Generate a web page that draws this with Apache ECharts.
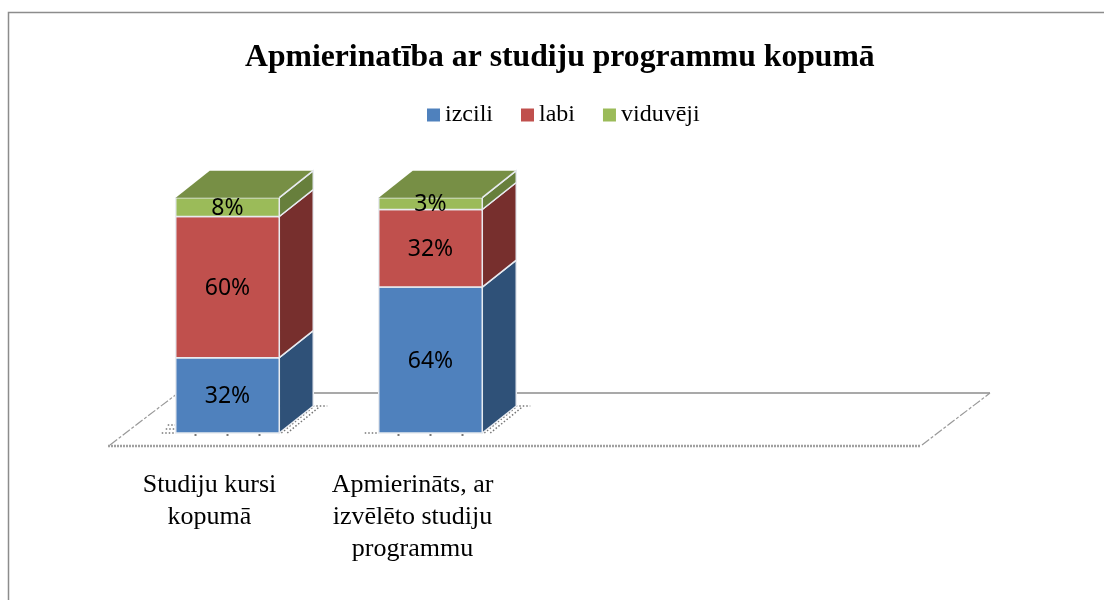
<!DOCTYPE html>
<html>
<head>
<meta charset="utf-8">
<style>
html,body{margin:0;padding:0;background:#fff;}
#chart{width:1104px;height:600px;}
</style>
<script src="https://cdn.jsdelivr.net/npm/echarts@6/dist/echarts.min.js"></script>
</head>
<body>
<div id="chart"></div>
<script>
var categories = ['Studiju kursi\nkopumā', 'Apmierināts, ar\nizvēlēto studiju\nprogrammu', '', ''];
// bar heights as drawn, the printed labels do not always add up to 100
var izcili = [32, 62];
var labi = [60, 33];
var viduveji = [8, 5];
var izciliLabels = ['32%', '64%'];
var labiLabels = ['60%', '32%'];
var viduvejiLabels = ['8%', '3%'];

var DEPTH_X = 34, DEPTH_Y = 27;
var SERIF = '"Liberation Serif", serif';

function stackData(values, labels, below){
	return values.map(function(v, i){
		var start = below ? below[i] : 0;
		return [i, start, start + v, labels[i]];
	});
}
function sum(a, b){
	return a.map(function(v, i){ return v + b[i]; });
}
function barItem(front, side, top){
	return function(params, api){
		var band = api.size([1, 0])[0];
		var w = band * 0.51;
		var cx = api.coord([api.value(0), 0])[0] + 18;
		var x0 = cx - w / 2, x1 = cx + w / 2;
		var y0 = api.coord([0, api.value(1)])[1];
		var y1 = api.coord([0, api.value(2)])[1];
		var edge = {stroke:'#e8ebf0', lineWidth:1.5};
		var children = [{
			type:'polygon',
			shape:{points:[[x1,y0],[x1 + DEPTH_X,y0 - DEPTH_Y],[x1 + DEPTH_X,y1 - DEPTH_Y],[x1,y1]]},
			style:Object.assign({fill:side}, edge)
		},{
			type:'rect',
			shape:{x:x0, y:y1, width:w, height:y0 - y1},
			style:Object.assign({fill:front}, edge)
		}];
		if(top){
			children.push({
				type:'polygon',
				shape:{points:[[x0,y1],[x0 + DEPTH_X,y1 - DEPTH_Y],[x1 + DEPTH_X,y1 - DEPTH_Y],[x1,y1]]},
				style:{fill:top}
			});
			children.push({
				type:'line',
				shape:{x1:x1,y1:y1,x2:x1 + DEPTH_X,y2:y1 - DEPTH_Y},
				style:edge
			});
		}
		children.push({
			type:'text',
			style:{
				text:api.value(3), x:cx, y:(y0 + y1) / 2 + 1,
				align:'center', verticalAlign:'middle',
				font:'23px "Noto Sans", sans-serif', fill:'#000'
			}
		});
		return {type:'group', children:children};
	};
}
function floorItem(params, api){
	var band = api.size([1, 0])[0];
	var base = api.coord([0, 0]);
	var left = base[0] - band / 2;
	var right = left + band * categories.length;
	var y = base[1];
	var children = [
		{type:'line', shape:{x1:left + 70,y1:y - 40,x2:right + 70,y2:y - 40}, style:{stroke:'#8c8c8c', lineWidth:1.5}},
		{type:'line', shape:{x1:left,y1:y + 13,x2:right,y2:y + 13}, style:{stroke:'#a0a0a0', lineWidth:2.5, lineDash:[2,1]}},
		{type:'line', shape:{x1:left + 2,y1:y + 12,x2:left + 70,y2:y - 40}, style:{stroke:'#999', lineWidth:1.2, lineDash:[9,2,3,2]}},
		{type:'line', shape:{x1:right + 2,y1:y + 12,x2:right + 70,y2:y - 40}, style:{stroke:'#999', lineWidth:1.2, lineDash:[9,2,3,2]}}
	];
	// dotted shadows on the floor round each bar
	[0, 1].forEach(function(i){
		var cx = api.coord([i, 0])[0] + 18;
		var x0 = cx - band * 0.255, x1 = cx + band * 0.255;
		var dots = {stroke:'#777', lineWidth:1.5, lineDash:[1.5,2]};
		children.push({type:'line', shape:{x1:x1 + 2,y1:y,x2:x1 + 34,y2:y - 26}, style:dots});
		children.push({type:'line', shape:{x1:x1 + 8,y1:y,x2:x1 + 40,y2:y - 26}, style:dots});
		children.push({type:'line', shape:{x1:x1 + 30,y1:y - 27,x2:x1 + 48,y2:y - 27}, style:dots});
		children.push({type:'line', shape:{x1:x0 - 14,y1:y,x2:x0,y2:y}, style:dots});
		children.push({type:'line', shape:{x1:cx - 33,y1:y + 2,x2:cx + 35,y2:y + 2}, style:{stroke:'#777', lineWidth:2, lineDash:[2,30]}});
		if(i === 0){
			children.push({type:'line', shape:{x1:x0 - 10,y1:y - 4,x2:x0,y2:y - 4}, style:dots});
			children.push({type:'line', shape:{x1:x0 - 8,y1:y - 8,x2:x0,y2:y - 8}, style:dots});
		}
	});
	return {type:'group', children:children};
}

var chart = echarts.init(document.getElementById('chart'), null, {renderer:'canvas'});
chart.setOption({
	animation:false,
	backgroundColor:'#fff',
	title:{
		text:'Apmierinatība ar studiju programmu kopumā',
		left:240, top:37,
		textStyle:{fontFamily:SERIF, fontSize:31.7, fontWeight:'bold', color:'#000'}
	},
	legend:{
		data:['izcili', 'labi', 'viduvēji'],
		top:98, left:422,
		icon:'rect', itemWidth:13, itemHeight:13, itemGap:28,
		textStyle:{fontFamily:SERIF, fontSize:24, color:'#000'}
	},
	graphic:[{
		type:'polyline', silent:true, z:-1,
		shape:{points:[[8.5,600],[8.5,12.5],[1104,12.5]]},
		style:{fill:'none', stroke:'#8c8c8c', lineWidth:1.5}
	}],
	grid:{left:108, width:812, top:197.7, height:235.3},
	xAxis:{
		type:'category',
		data:categories,
		axisLine:{show:false},
		axisTick:{show:false},
		axisLabel:{
			interval:0, margin:36, lineHeight:32,
			fontFamily:SERIF, fontSize:26, color:'#000'
		}
	},
	yAxis:{type:'value', min:0, max:100, show:false},
	series:[
		{type:'custom', name:'floor', renderItem:floorItem, data:[[0,0]], clip:false, z:1, encode:{x:0,y:1}},
		{type:'custom', name:'izcili', itemStyle:{color:'#4F81BD'},
			renderItem:barItem('#4F81BD','#2F5178'), data:stackData(izcili, izciliLabels), z:2, encode:{x:0,y:[1,2]}},
		{type:'custom', name:'labi', itemStyle:{color:'#C0504D'},
			renderItem:barItem('#C0504D','#772F2D'), data:stackData(labi, labiLabels, izcili), z:3, encode:{x:0,y:[1,2]}},
		{type:'custom', name:'viduvēji', itemStyle:{color:'#9BBB59'},
			renderItem:barItem('#9BBB59','#677F3C','#778F45'), data:stackData(viduveji, viduvejiLabels, sum(izcili, labi)), z:4, encode:{x:0,y:[1,2]}}
	]
});
</script>
</body>
</html>
